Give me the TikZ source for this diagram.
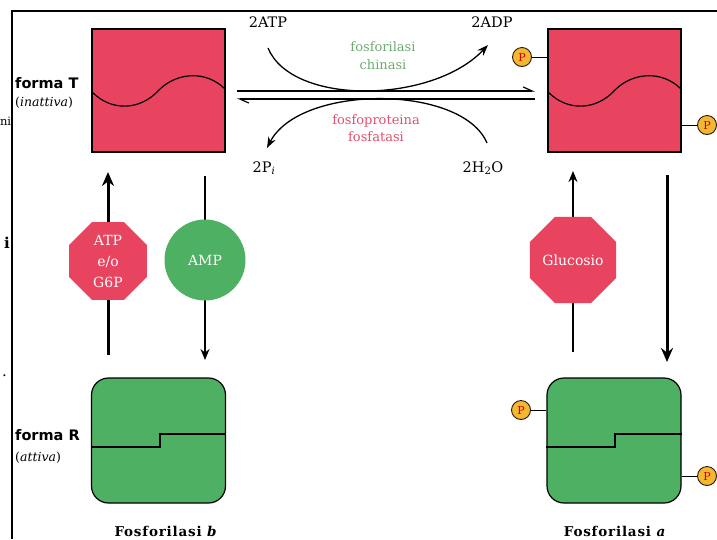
\documentclass[tikz,border=0pt]{standalone}
\usepackage{fontspec}
\setmainfont{DejaVu Serif}
\newfontfamily\labsans{DejaVu Sans}
\newfontfamily\spacedserif[LetterSpace=6]{DejaVu Serif}
\usetikzlibrary{arrows.meta,shapes.geometric}
\definecolor{enzred}{RGB}{232,67,95}
\definecolor{enzgreen}{RGB}{78,176,98}
\definecolor{kinasegreen}{RGB}{110,170,110}
\definecolor{phosred}{RGB}{225,80,110}
\definecolor{pyellow}{RGB}{244,183,49}
\tikzset{
  tform/.style={draw=black, line width=1.2pt, fill=enzred, minimum width=133pt, minimum height=123pt, inner sep=0pt},
  rform/.style={draw=black, line width=1.2pt, fill=enzgreen, rounded corners=17pt, minimum width=134pt, minimum height=125pt, inner sep=0pt},
  pgroup/.style={circle, draw=black!80!brown, line width=0.9pt, fill=pyellow, minimum size=19pt, inner sep=0pt, text=red!80!black, font=\fontsize{11}{11}\selectfont},
  inhib/.style={regular polygon, regular polygon sides=8, fill=enzred, minimum size=84pt, inner sep=0pt, text=white, align=center, font=\fontsize{14}{21}\selectfont},
  activ/.style={circle, fill=enzgreen, minimum size=81pt, inner sep=0pt, text=white, font=\fontsize{14}{14}\selectfont},
  thickarrow/.style={line width=3pt, -{Stealth[length=14pt,width=12pt]}},
  thinarrow/.style={line width=1.3pt, -{Stealth[length=11pt,width=9pt]}},
  curvearrow/.style={line width=1.3pt, -{Stealth[length=11pt,width=8pt]}},
  bar/.style={line width=1.2pt},
  sidelabel/.style={anchor=west, align=left, inner sep=0pt},
  txt/.style={font=\fontsize{14.5}{15}\selectfont, inner sep=1pt}
}
\begin{document}
\begin{tikzpicture}[x=1pt,y=-1pt]
\useasboundingbox (0,0) rectangle (717,539);

% page frame and clipped margin text
\draw[line width=1.1pt] (12,539) -- (12,11) -- (717,11);
\node[anchor=east, inner sep=0pt, font=\fontsize{11.5}{12}\selectfont] (mni) at (11.3,121) {ni};
\node[anchor=east, inner sep=0pt, font=\fontsize{15}{15}\bfseries\selectfont] (mi) at (10,243) {i};
\node[anchor=east, inner sep=0pt, font=\fontsize{15}{15}\selectfont] (mdot) at (7,376) {.};

% T-state enzyme (left) and phosphorylated T-state (right)
\node[tform] (tb) at (158.5,90.5) {};
\node[tform] (ta) at (614.5,90.5) {};
\draw[line width=1.2pt] (92,92) .. controls (112,112) and (140,110) .. (158,91)
  .. controls (176,72) and (206,70) .. (225,89);
\draw[line width=1.2pt] (548,92) .. controls (568,112) and (596,110) .. (614,91)
  .. controls (632,72) and (662,70) .. (681,89);

% R-state enzyme (left) and phosphorylated R-state (right)
\node[rform] (rb) at (158.5,440.5) {};
\node[rform] (ra) at (614,440.5) {};
\draw[line width=1.2pt] (rb.west |- 0,447) -- (160,447) -- (160,434) -- (rb.east |- 0,434);
\draw[line width=1.2pt] (ra.west |- 0,447) -- (615,447) -- (615,434) -- (ra.east |- 0,434);

% side labels
\node[sidelabel] (tlab) at (15,83) {\labsans\bfseries\fontsize{14.5}{15}\selectfont forma T};
\node[sidelabel] (tsub) at (15,103) {\fontsize{12.5}{13}\selectfont(\textit{inattiva})};
\node[sidelabel] (rlab) at (15,435) {\labsans\bfseries\fontsize{14.5}{15}\selectfont forma R};
\node[sidelabel] (rsub) at (15,458) {\fontsize{12.5}{13}\selectfont(\textit{attiva})};
\node[txt, font=\spacedserif\fontsize{13.5}{14}\bfseries\selectfont] (nb) at (166,531) {Fosforilasi \textit{b}};
\node[txt, font=\spacedserif\fontsize{13.5}{14}\bfseries\selectfont] (na) at (615,531) {Fosforilasi \textit{a}};

% phosphate groups
\node[pgroup] (p1) at (522,57) {P};
\node[pgroup] (p2) at (707,125) {P};
\node[pgroup] (p3) at (521,410) {P};
\node[pgroup] (p4) at (707,476) {P};
\draw[line width=1pt] (p1) -- (ta.west |- p1);
\draw[line width=1pt] (p2) -- (ta.east |- p2);
\draw[line width=1pt] (p3) -- (ra.west |- p3);
\draw[line width=1pt] (p4) -- (ra.east |- p4);

% interconversion b <-> a
\coordinate (fl) at (237,91);
\coordinate (fr) at (535,91);
\coordinate (bl) at (237,99);
\coordinate (br) at (535,99);
\draw[bar, -{Straight Barb[left,length=9pt,width=8pt]}] (fl) -- (fr);
\draw[bar, -{Straight Barb[left,length=9pt,width=8pt]}] (br) -- (bl);

\node[txt] (atp) at (268,22) {2ATP};
\node[txt] (adp) at (492,22) {2ADP};
\node[txt] (pi) at (264,168) {2P\textsubscript{\textit{i}}};
\node[txt] (water) at (483,168) {2H\textsubscript{2}O};
\coordinate (k1) at (268,48);
\coordinate (k2) at (488,45);
\coordinate (h1) at (487,143);
\coordinate (h2) at (267,148);
\draw[curvearrow] (k1) .. controls (292,106) and (432,104) .. (k2);
\draw[curvearrow] (h1) .. controls (462,84) and (300,84) .. (h2);

\node[txt, text=kinasegreen, align=center, font=\fontsize{13}{18}\selectfont] (kin) at (383,56) {fosforilasi\\chinasi};
\node[txt, text=phosred, align=center, font=\fontsize{13}{17}\selectfont] (pho) at (376,128) {fosfoproteina\\fosfatasi};

% allosteric transitions, b form
\coordinate (lu1) at (108,355);
\coordinate (lu2) at (108,172);
\coordinate (ld1) at (205,176);
\coordinate (ld2) at (205,360);
\draw[thickarrow] (lu1) -- (lu2);
\draw[thinarrow] (ld1) -- (ld2);
\node[inhib] (atpg) at (108,261) {ATP\\e/o\\G6P};
\node[activ] (amp) at (205,260) {AMP};

% allosteric transitions, a form
\coordinate (ru1) at (573,352);
\coordinate (ru2) at (573,171);
\coordinate (rd1) at (667,175);
\coordinate (rd2) at (667,362);
\draw[thinarrow] (ru1) -- (ru2);
\draw[thickarrow] (rd1) -- (rd2);
\node[inhib] (glc) at (573,260) {Glucosio};
\end{tikzpicture}
\end{document}
